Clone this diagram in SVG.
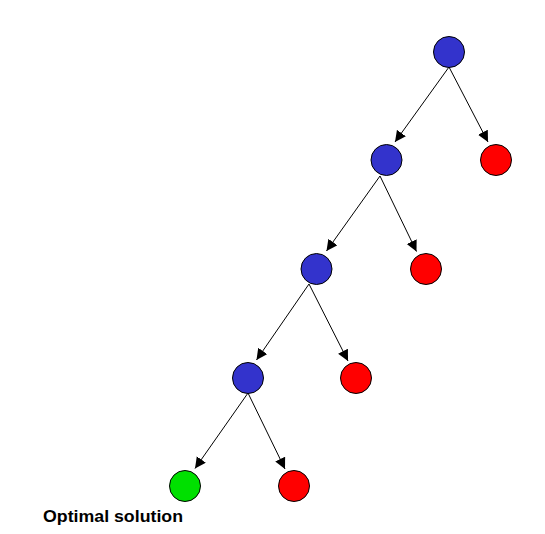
<svg xmlns="http://www.w3.org/2000/svg" width="545" height="534" viewBox="0 0 545 534">
<style>
.n{stroke:#000;stroke-width:1}
.b{fill:#3333cc}
.r{fill:#ff0000}
.g{fill:#00e000}
.e{stroke:#000;stroke-width:1;fill:none;marker-end:url(#ah)}
text{font-family:"Liberation Sans",Arial,sans-serif;font-weight:bold;font-size:17px;fill:#000}
</style>
<defs>
<marker id="ah" markerUnits="userSpaceOnUse" markerWidth="12" markerHeight="12" refX="11" refY="5.5" orient="auto">
<path d="M0,0 L11,5.5 L0,11 z" fill="#000"/>
</marker>
</defs>
<rect width="545" height="534" fill="#fff"/>
<g id="connectors">
<line class="e" x1="449" y1="67" x2="395" y2="142"/>
<line class="e" x1="449" y1="67" x2="488" y2="142"/>
<line class="e" x1="380" y1="176" x2="326.5" y2="251"/>
<line class="e" x1="380" y1="176" x2="416.5" y2="251.5"/>
<line class="e" x1="309" y1="284" x2="256.5" y2="360"/>
<line class="e" x1="309" y1="284" x2="348" y2="361"/>
<line class="e" x1="248" y1="393" x2="195" y2="468.5"/>
<line class="e" x1="248" y1="393" x2="285" y2="469"/>
</g>
<g id="n1"><circle class="n b" cx="449" cy="52" r="15.5"/></g>
<g id="n2"><circle class="n b" cx="386.5" cy="160" r="15.5"/></g>
<g id="n3"><circle class="n r" cx="496" cy="160" r="15.5"/></g>
<g id="n4"><circle class="n b" cx="316.5" cy="269" r="15.5"/></g>
<g id="n5"><circle class="n r" cx="426" cy="269" r="15.5"/></g>
<g id="n6"><circle class="n b" cx="248" cy="378" r="15.5"/></g>
<g id="n7"><circle class="n r" cx="356" cy="378" r="15.5"/></g>
<g id="n8"><circle class="n g" cx="185" cy="486" r="15.5"/></g>
<g id="n9"><circle class="n r" cx="294" cy="486" r="15.5"/></g>
<g id="label"><text x="43" y="522" textLength="140" lengthAdjust="spacingAndGlyphs">Optimal solution</text></g>
</svg>
